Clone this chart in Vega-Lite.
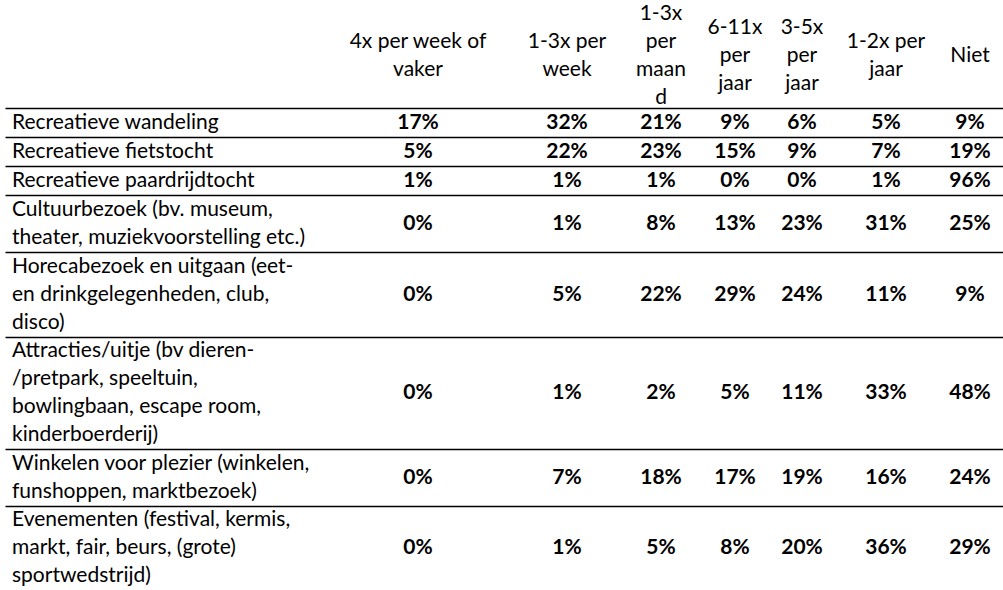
{
  "$schema": "https://vega.github.io/schema/vega-lite/v6.json",
  "width": 998,
  "height": 590,
  "autosize": {"type": "none"},
  "padding": {"left": 5, "top": 0, "right": 0, "bottom": 0},
  "background": "white",
  "config": {"view": {"stroke": null}, "font": "Lato", "text": {"fontSize": 21, "color": "#000000", "baseline": "middle", "lineBreak": "\n", "lineHeight": 28}},
  "datasets": {
    "freqs": [
      {"row": 0, "col": 1, "freq": "4x per week of vaker", "header": "4x per week of\nvaker"},
      {"row": 0, "col": 2, "freq": "1-3x per week", "header": "1-3x per\nweek"},
      {"row": 0, "col": 3, "freq": "1-3x per maand", "header": "1-3x\nper\nmaan\nd"},
      {"row": 0, "col": 4, "freq": "6-11x per jaar", "header": "6-11x\nper\njaar"},
      {"row": 0, "col": 5, "freq": "3-5x per jaar", "header": "3-5x\nper\njaar"},
      {"row": 0, "col": 6, "freq": "1-2x per jaar", "header": "1-2x per\njaar"},
      {"row": 0, "col": 7, "freq": "Niet", "header": "Niet"}
    ],
    "activities": [
      {"row": 1, "col": 0, "activity": "Recreatieve wandeling", "4x per week of vaker": 0.17, "1-3x per week": 0.32, "1-3x per maand": 0.21, "6-11x per jaar": 0.09, "3-5x per jaar": 0.06, "1-2x per jaar": 0.05, "Niet": 0.09},
      {"row": 2, "col": 0, "activity": "Recreatieve fietstocht", "4x per week of vaker": 0.05, "1-3x per week": 0.22, "1-3x per maand": 0.23, "6-11x per jaar": 0.15, "3-5x per jaar": 0.09, "1-2x per jaar": 0.07, "Niet": 0.19},
      {"row": 3, "col": 0, "activity": "Recreatieve paardrijdtocht", "4x per week of vaker": 0.01, "1-3x per week": 0.01, "1-3x per maand": 0.01, "6-11x per jaar": 0.0, "3-5x per jaar": 0.0, "1-2x per jaar": 0.01, "Niet": 0.96},
      {"row": 4, "col": 0, "activity": "Cultuurbezoek (bv. museum,\ntheater, muziekvoorstelling etc.)", "4x per week of vaker": 0.0, "1-3x per week": 0.01, "1-3x per maand": 0.08, "6-11x per jaar": 0.13, "3-5x per jaar": 0.23, "1-2x per jaar": 0.31, "Niet": 0.25},
      {"row": 5, "col": 0, "activity": "Horecabezoek en uitgaan (eet-\nen drinkgelegenheden, club,\ndisco)", "4x per week of vaker": 0.0, "1-3x per week": 0.05, "1-3x per maand": 0.22, "6-11x per jaar": 0.29, "3-5x per jaar": 0.24, "1-2x per jaar": 0.11, "Niet": 0.09},
      {"row": 6, "col": 0, "activity": "Attracties/uitje (bv dieren-\n/pretpark, speeltuin,\nbowlingbaan, escape room,\nkinderboerderij)", "4x per week of vaker": 0.0, "1-3x per week": 0.01, "1-3x per maand": 0.02, "6-11x per jaar": 0.05, "3-5x per jaar": 0.11, "1-2x per jaar": 0.33, "Niet": 0.48},
      {"row": 7, "col": 0, "activity": "Winkelen voor plezier (winkelen,\nfunshoppen, marktbezoek)", "4x per week of vaker": 0.0, "1-3x per week": 0.07, "1-3x per maand": 0.18, "6-11x per jaar": 0.17, "3-5x per jaar": 0.19, "1-2x per jaar": 0.16, "Niet": 0.24},
      {"row": 8, "col": 0, "activity": "Evenementen (festival, kermis,\nmarkt, fair, beurs, (grote)\nsportwedstrijd)", "4x per week of vaker": 0.0, "1-3x per week": 0.01, "1-3x per maand": 0.05, "6-11x per jaar": 0.08, "3-5x per jaar": 0.2, "1-2x per jaar": 0.36, "Niet": 0.29}
    ]
  },
  "encoding": {
    "x": {
      "field": "col", "type": "quantitative",
      "scale": {"domain": [-1, 0, 1, 2, 3, 4, 5, 6, 7, 8], "range": [0, 7, 413, 562, 656, 730, 797, 881, 965, 998], "zero": false, "nice": false},
      "axis": null
    },
    "y": {
      "field": "row", "type": "quantitative",
      "scale": {
        "domain": [-0.5, 0, 0.5, 1, 1.5, 2, 2.5, 3, 3.5, 4, 4.5, 5, 5.5, 6, 6.5, 7, 7.5, 8, 8.5],
        "range": [0, 56, 108, 122.5, 137, 151.5, 166, 180.5, 195, 223.5, 252, 294.5, 337, 393, 449, 477.5, 506, 548, 590],
        "zero": false, "nice": false
      },
      "axis": {
        "values": [0.5, 1.5, 2.5, 3.5, 4.5, 5.5, 6.5, 7.5],
        "grid": true, "gridColor": "#000000", "gridWidth": 1.3, "gridOpacity": 1,
        "labels": false, "ticks": false, "domain": false, "title": null
      }
    }
  },
  "layer": [
    {
      "data": {"name": "freqs"},
      "transform": [{"filter": "length(split(datum.header, '\\n')) == 1"}],
      "mark": {"type": "text", "align": "center", "dy": 0},
      "encoding": {"text": {"field": "header", "type": "nominal"}}
    },
    {
      "data": {"name": "freqs"},
      "transform": [{"filter": "length(split(datum.header, '\\n')) == 2"}],
      "mark": {"type": "text", "align": "center", "dy": -14},
      "encoding": {"text": {"field": "header", "type": "nominal"}}
    },
    {
      "data": {"name": "freqs"},
      "transform": [{"filter": "length(split(datum.header, '\\n')) == 3"}],
      "mark": {"type": "text", "align": "center", "dy": -28},
      "encoding": {"text": {"field": "header", "type": "nominal"}}
    },
    {
      "data": {"name": "freqs"},
      "transform": [{"filter": "length(split(datum.header, '\\n')) == 4"}],
      "mark": {"type": "text", "align": "center", "dy": -42},
      "encoding": {"text": {"field": "header", "type": "nominal"}}
    },
    {
      "data": {"name": "activities"},
      "transform": [{"filter": "length(split(datum.activity, '\\n')) == 1"}],
      "mark": {"type": "text", "align": "left", "dy": 0},
      "encoding": {"text": {"field": "activity", "type": "nominal"}}
    },
    {
      "data": {"name": "activities"},
      "transform": [{"filter": "length(split(datum.activity, '\\n')) == 2"}],
      "mark": {"type": "text", "align": "left", "dy": -14},
      "encoding": {"text": {"field": "activity", "type": "nominal"}}
    },
    {
      "data": {"name": "activities"},
      "transform": [{"filter": "length(split(datum.activity, '\\n')) == 3"}],
      "mark": {"type": "text", "align": "left", "dy": -28},
      "encoding": {"text": {"field": "activity", "type": "nominal"}}
    },
    {
      "data": {"name": "activities"},
      "transform": [{"filter": "length(split(datum.activity, '\\n')) == 4"}],
      "mark": {"type": "text", "align": "left", "dy": -42},
      "encoding": {"text": {"field": "activity", "type": "nominal"}}
    },
    {
      "data": {"name": "activities"},
      "transform": [
        {"fold": ["4x per week of vaker", "1-3x per week", "1-3x per maand", "6-11x per jaar", "3-5x per jaar", "1-2x per jaar", "Niet"], "as": ["freq", "share"]},
        {"lookup": "freq", "from": {"data": {"name": "freqs"}, "key": "freq", "fields": ["col"]}}
      ],
      "mark": {"type": "text", "align": "center", "fontWeight": "bold"},
      "encoding": {
        "text": {"field": "share", "type": "quantitative", "format": ".0%"}
      }
    }
  ]
}
